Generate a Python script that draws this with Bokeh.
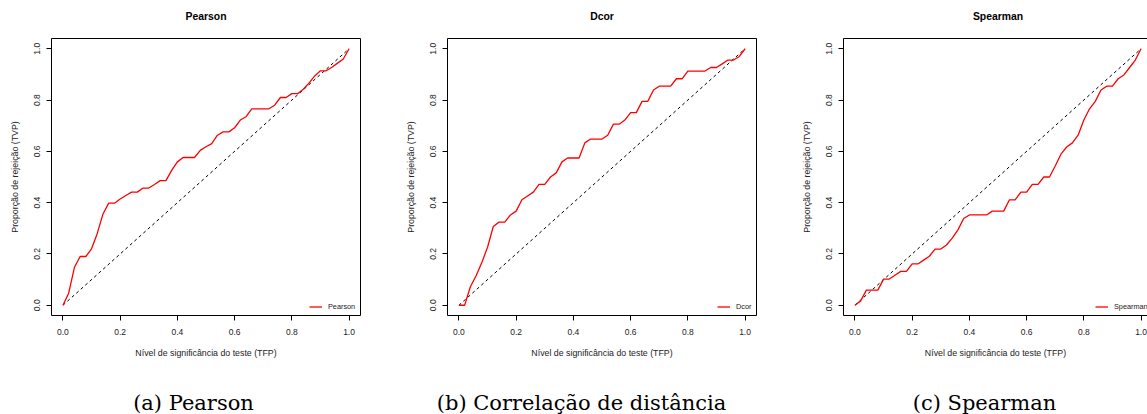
from bokeh.plotting import figure
from bokeh.models import Range1d, FixedTicker, LinearAxis
from bokeh.core.properties import value
from bokeh.layouts import row, column
from bokeh.embed import file_html
from bokeh.resources import INLINE

# Significance levels (false positive rate) at which the tests were evaluated
alpha = [0.00, 0.02, 0.04, 0.06, 0.08, 0.10, 0.12, 0.14, 0.16, 0.18,
         0.20, 0.22, 0.24, 0.26, 0.28, 0.30, 0.32, 0.34, 0.36, 0.38,
         0.40, 0.42, 0.44, 0.46, 0.48, 0.50, 0.52, 0.54, 0.56, 0.58,
         0.60, 0.62, 0.64, 0.66, 0.68, 0.70, 0.72, 0.74, 0.76, 0.78,
         0.80, 0.82, 0.84, 0.86, 0.88, 0.90, 0.92, 0.94, 0.96, 0.98, 1.00]

# Rejection proportion (true positive rate) for each test
pearson_tvp = [0.000, 0.047, 0.147, 0.190, 0.190, 0.220, 0.280, 0.356, 0.398, 0.398,
               0.414, 0.428, 0.441, 0.441, 0.457, 0.457, 0.471, 0.486, 0.486, 0.526,
               0.559, 0.576, 0.576, 0.576, 0.604, 0.618, 0.630, 0.663, 0.676, 0.676,
               0.692, 0.722, 0.735, 0.766, 0.766, 0.766, 0.766, 0.780, 0.810, 0.810,
               0.825, 0.825, 0.842, 0.866, 0.894, 0.914, 0.914, 0.928, 0.944, 0.960, 1.000]

dcor_tvp = [0.000, 0.000, 0.072, 0.115, 0.167, 0.226, 0.307, 0.324, 0.324, 0.352,
            0.367, 0.411, 0.426, 0.441, 0.471, 0.471, 0.500, 0.516, 0.559, 0.574,
            0.574, 0.574, 0.633, 0.648, 0.648, 0.648, 0.663, 0.706, 0.706, 0.722,
            0.751, 0.751, 0.795, 0.795, 0.839, 0.854, 0.854, 0.854, 0.883, 0.883,
            0.913, 0.913, 0.913, 0.913, 0.927, 0.927, 0.941, 0.956, 0.956, 0.970, 1.000]

spearman_tvp = [0.000, 0.017, 0.059, 0.059, 0.059, 0.102, 0.102, 0.117, 0.132, 0.132,
                0.161, 0.161, 0.176, 0.191, 0.219, 0.219, 0.235, 0.262, 0.294, 0.338,
                0.352, 0.352, 0.352, 0.352, 0.367, 0.367, 0.367, 0.411, 0.411, 0.441,
                0.441, 0.471, 0.471, 0.500, 0.500, 0.543, 0.589, 0.617, 0.633, 0.663,
                0.722, 0.766, 0.795, 0.839, 0.854, 0.854, 0.883, 0.898, 0.927, 0.956, 1.000]

# Reference line y = x
diag = [0.0, 1.0]

tick_values = [0.0, 0.2, 0.4, 0.6, 0.8, 1.0]
tick_labels = ["0.0", "0.2", "0.4", "0.6", "0.8", "1.0"]

panel_titles = ["Pearson", "Dcor", "Spearman"]
title_centers = [205.5, 601.5, 997.5]
legend_names = ["Pearson", "Dcor", "Spearman"]
captions = ["(a) Pearson", "(b) Correlação de distância", "(c) Spearman"]
caption_centers = [193, 581, 984]
x_label = "Nível de significância do teste (TFP)"
y_label = "Proporção de rejeição (TVP)"

SANS = "Liberation Sans"
TEXT = "#222222"
PX_PER_UNIT = 309 / 1.08
TITLE_H = 30
PANEL_H = 340
CAPTION_H = 44


def strip(height):
    """Blank full-width figure in pixel coordinates (y pointing down)."""
    s = figure(width=1147, height=height, output_backend="svg", toolbar_location=None,
               x_range=Range1d(0, 1147), y_range=Range1d(height, 0),
               min_border_left=0, min_border_right=0, min_border_top=0,
               min_border_bottom=0, outline_line_color=None,
               background_fill_color="white", border_fill_color="white")
    s.axis.visible = False
    s.grid.visible = False
    return s


def make_panel(series, name, width, legend_x, clipped=False):
    border_right = 0 if clipped else 36
    frame_w = width - 51 - border_right
    x_end = -0.04 + frame_w / PX_PER_UNIT
    p = figure(width=width, height=PANEL_H, output_backend="svg", toolbar_location=None,
               x_range=Range1d(-0.04, x_end), y_range=Range1d(-0.04, 1.04),
               min_border_left=51, min_border_right=border_right,
               min_border_top=38 - TITLE_H, min_border_bottom=PANEL_H - (315 - TITLE_H),
               background_fill_color="white", border_fill_color="white")
    p.grid.visible = False

    for ax in (p.xaxis[0], p.yaxis[0]):
        ax.ticker = FixedTicker(ticks=tick_values)
        ax.major_label_overrides = {v: s for v, s in zip(tick_values, tick_labels)}
        ax.major_tick_out = 5
        ax.major_tick_in = 0
        ax.minor_tick_out = 0
        ax.minor_tick_in = 0
        ax.major_tick_line_color = "black"
        ax.major_label_text_font = SANS
        ax.major_label_text_font_size = "8.5px"
        ax.major_label_text_color = TEXT
        ax.major_label_standoff = 8
        ax.axis_label_text_font = SANS
        ax.axis_label_text_font_size = "8.8px"
        ax.axis_label_text_font_style = "normal"
        ax.axis_label_text_color = TEXT
        ax.axis_label_standoff = 10
    p.yaxis.major_label_standoff = 6
    p.yaxis.axis_label_standoff = 12
    p.xaxis.axis_label = x_label
    p.yaxis.axis_label = y_label
    p.yaxis.major_label_orientation = "parallel"

    if clipped:
        # Box runs past the right edge: draw left, bottom and top sides only
        p.outline_line_color = None
        p.xaxis.axis_line_color = "black"
        p.yaxis.axis_line_color = "black"
        top = LinearAxis(ticker=FixedTicker(ticks=[]), major_tick_out=0, major_tick_in=0,
                         minor_tick_out=0, minor_tick_in=0,
                         major_label_text_font_size="0px", axis_line_color="black")
        p.add_layout(top, "above")
    else:
        p.outline_line_color = "black"
        p.outline_line_width = 1
        p.xaxis.axis_line_color = None
        p.yaxis.axis_line_color = None

    p.line(diag, diag, line_color="black", line_width=1, line_dash="3 3")
    p.line(alpha, series, line_color="#ff0000", line_width=1.3, legend_label=name)

    lg = p.legend[0]
    lg.location = (legend_x, 4.5)
    lg.padding = 0
    lg.margin = 0
    lg.spacing = 0
    lg.border_line_color = None
    lg.background_fill_alpha = 0
    lg.glyph_width = 13
    lg.glyph_height = 9
    lg.label_height = 9
    lg.label_standoff = 6
    lg.label_text_font = SANS
    lg.label_text_font_size = "7.3px"
    lg.label_text_color = TEXT
    lg.label_text_baseline = "middle"
    return p


# Panel titles
head = strip(TITLE_H)
head.text(x=title_centers, y=[16] * len(panel_titles), text=panel_titles,
          text_align="center", text_baseline="middle",
          text_font=value(SANS), text_font_style="bold",
          text_font_size=value("10.4px"), text_color="black")

p1 = make_panel(pearson_tvp, legend_names[0], 396, 258)
p2 = make_panel(dcor_tvp, legend_names[1], 396, 270)
p3 = make_panel(spearman_tvp, legend_names[2], 355, 252, clipped=True)

# Sub-figure captions
cap = strip(CAPTION_H)
cap.text(x=caption_centers, y=[32] * len(captions), text=captions,
         text_align="center", text_baseline="alphabetic",
         text_font=value("DejaVu Serif"), text_font_size=value("21px"), text_color="black")

layout = column(head, row(p1, p2, p3, spacing=0), cap, spacing=0)
open("out.html", "w").write(file_html(layout, INLINE))
